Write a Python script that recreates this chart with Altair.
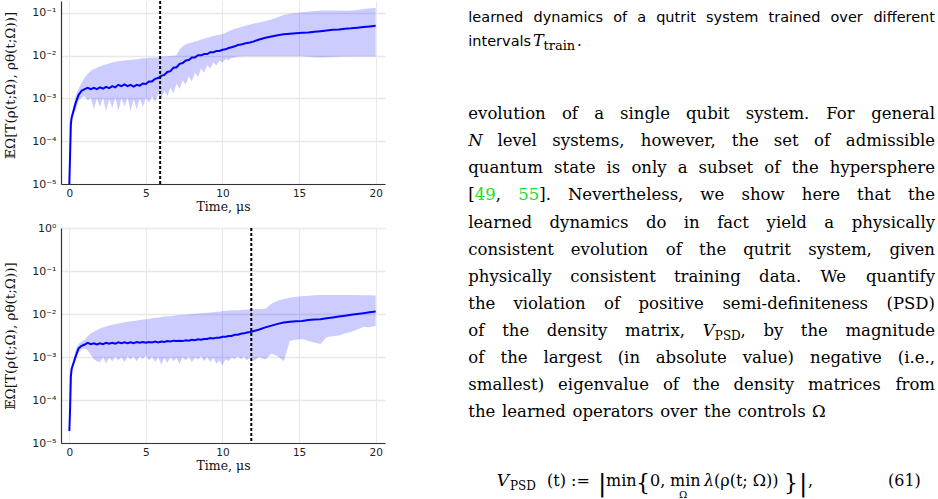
import altair as alt
import numpy as np
import pandas as pd

# ---------------- data (log10 of the plotted quantity) ----------------
T = [0, 0.05, 0.1, 0.15,
     0.2, 0.4, 0.6, 0.8, 1.0,
     1.2, 1.4, 1.6, 1.8, 2.0,
     2.2, 2.4, 2.6, 2.8, 3.0,
     3.2, 3.4, 3.6, 3.8, 4.0,
     4.2, 4.4, 4.6, 4.8, 5.0,
     5.2, 5.4, 5.6, 5.8, 6.0,
     6.2, 6.4, 6.6, 6.8, 7.0,
     7.2, 7.4, 7.6, 7.8, 8.0,
     8.2, 8.4, 8.6, 8.8, 9.0,
     9.2, 9.4, 9.6, 9.8, 10.0,
     10.2, 10.4, 10.6, 10.8, 11.0,
     11.2, 11.4, 11.6, 11.8, 12.0,
     12.4, 12.8, 13.2, 13.6, 14.0,
     14.4, 14.8, 15.2, 15.6, 16.0,
     16.4, 16.8, 17.2, 17.6, 18.0,
     18.4, 18.8, 19.2, 19.6, 20.0]

P1_MEAN = [-5.0, -4.3, -3.6, -3.45,
           -3.38, -3.12, -2.92, -2.82, -2.78,
           -2.75, -2.78, -2.75, -2.78, -2.74,
           -2.77, -2.73, -2.76, -2.71, -2.74,
           -2.68, -2.71, -2.67, -2.71, -2.68,
           -2.72, -2.68, -2.70, -2.65, -2.66,
           -2.60, -2.60, -2.54, -2.52, -2.47,
           -2.45, -2.38, -2.36, -2.28, -2.27,
           -2.19, -2.17, -2.11, -2.10, -2.04,
           -2.04, -1.99, -1.99, -1.96, -1.96,
           -1.92, -1.92, -1.89, -1.89, -1.86,
           -1.85, -1.82, -1.80, -1.78, -1.75,
           -1.74, -1.72, -1.70, -1.69, -1.67,
           -1.62, -1.58, -1.55, -1.52, -1.50,
           -1.485, -1.475, -1.465, -1.455, -1.44,
           -1.425, -1.41, -1.395, -1.385, -1.37,
           -1.36, -1.345, -1.33, -1.315, -1.30]

P1_HIGH = [-5.0, -4.3, -3.6, -3.4,
           -3.3, -2.95, -2.78, -2.63, -2.51,
           -2.42, -2.35, -2.31, -2.28, -2.25,
           -2.22, -2.20, -2.18, -2.16, -2.14,
           -2.13, -2.12, -2.11, -2.10, -2.10,
           -2.09, -2.08, -2.07, -2.06, -2.06,
           -2.05, -2.05, -2.04, -2.04, -2.03,
           -2.02, -2.01, -2.00, -2.00, -1.99,
           -1.85, -1.78, -1.74, -1.71, -1.69,
           -1.67, -1.65, -1.62, -1.60, -1.58,
           -1.56, -1.54, -1.52, -1.51, -1.49,
           -1.46, -1.43, -1.40, -1.37, -1.35,
           -1.33, -1.31, -1.29, -1.27, -1.25,
           -1.22, -1.19, -1.15, -1.10, -1.05,
           -1.02, -1.00, -0.985, -0.97, -0.955,
           -0.945, -0.94, -0.94, -0.945, -0.95,
           -0.945, -0.93, -0.91, -0.895, -0.88]

P1_LOW = [-5.0, -4.3, -3.7, -3.55,
          -3.45, -3.3, -3.05, -2.98, -2.95,
          -3.05, -2.98, -3.25, -3.0, -3.2,
          -2.98, -3.3, -3.02, -3.22, -2.99,
          -3.28, -3.0, -3.18, -2.98, -3.3,
          -3.02, -3.25, -3.0, -3.2, -2.98,
          -3.1, -2.95, -3.08, -2.9, -3.0,
          -2.82, -2.95, -2.75, -2.88, -2.65,
          -2.78, -2.58, -2.68, -2.48, -2.6,
          -2.4, -2.5, -2.3, -2.4, -2.22,
          -2.3, -2.16, -2.22, -2.12, -2.16,
          -2.08, -2.10, -2.05, -2.05, -2.02,
          -2.02, -2.01, -2.01, -2.01, -2.01,
          -2.01, -2.01, -2.01, -2.01, -2.01,
          -2.01, -2.01, -2.015, -2.025, -2.035,
          -2.04, -2.035, -2.03, -2.025, -2.02,
          -2.02, -2.02, -2.02, -2.02, -2.02]

P2_MEAN = [-4.72, -4.2, -3.45, -3.28,
           -3.22, -3.0, -2.8, -2.74, -2.71,
           -2.67, -2.70, -2.68, -2.71, -2.68,
           -2.70, -2.67, -2.69, -2.67, -2.69,
           -2.66, -2.68, -2.66, -2.68, -2.66,
           -2.68, -2.65, -2.67, -2.65, -2.67,
           -2.65, -2.66, -2.64, -2.66, -2.64,
           -2.65, -2.63, -2.64, -2.62, -2.63,
           -2.62, -2.63, -2.61, -2.62, -2.60,
           -2.61, -2.59, -2.60, -2.58, -2.58,
           -2.56, -2.57, -2.55, -2.55, -2.53,
           -2.53, -2.51, -2.51, -2.48, -2.48,
           -2.46, -2.45, -2.43, -2.42, -2.40,
           -2.36, -2.31, -2.27, -2.23, -2.20,
           -2.18, -2.17, -2.16, -2.14, -2.13,
           -2.12, -2.10, -2.08, -2.06, -2.04,
           -2.02, -2.00, -1.98, -1.96, -1.94]

P2_HIGH = [-4.72, -4.2, -3.4, -3.2,
           -3.15, -2.85, -2.70, -2.64, -2.60,
           -2.52, -2.45, -2.41, -2.37, -2.34,
           -2.31, -2.29, -2.27, -2.25, -2.24,
           -2.22, -2.21, -2.19, -2.18, -2.17,
           -2.16, -2.15, -2.14, -2.13, -2.12,
           -2.11, -2.10, -2.09, -2.085, -2.07,
           -2.06, -2.055, -2.05, -2.04, -2.03,
           -2.025, -2.02, -2.015, -2.005, -2.00,
           -1.995, -1.99, -1.98, -1.975, -1.97,
           -1.965, -1.96, -1.95, -1.945, -1.93,
           -1.925, -1.92, -1.915, -1.91, -1.91,
           -1.905, -1.90, -1.895, -1.89, -1.89,
           -1.885, -1.875, -1.76, -1.69, -1.65,
           -1.62, -1.60, -1.585, -1.575, -1.565,
           -1.56, -1.56, -1.56, -1.56, -1.56,
           -1.56, -1.56, -1.565, -1.565, -1.57]

P2_LOW = [-4.72, -4.25, -3.5, -3.35,
          -3.3, -3.08, -2.9, -2.82, -2.80,
          -2.85, -2.95, -3.05, -3.10, -3.12,
          -3.0, -3.15, -3.02, -3.1, -2.99,
          -3.08, -3.0, -3.12, -2.98, -3.06,
          -2.99, -3.1, -2.98, -3.04, -2.97,
          -3.08, -2.99, -3.12, -3.0, -3.18,
          -3.02, -3.14, -3.0, -3.1, -3.02,
          -3.16, -3.0, -3.08, -2.99, -3.12,
          -3.0, -3.06, -2.98, -3.1, -3.0,
          -3.12, -3.02, -3.15, -3.08, -3.2,
          -3.05, -3.1, -3.0, -3.06, -2.98,
          -3.05, -2.99, -3.08, -3.0, -3.1,
          -3.0, -3.06, -2.92, -2.98, -3.1,
          -2.62, -2.6, -2.58, -2.63, -2.66,
          -2.70, -2.54, -2.52, -2.50, -2.45,
          -2.42, -2.36, -2.30, -2.31, -2.28]

T_TRAIN = [5.93, 11.88]
X_TICKS = [0, 5, 10, 15, 20]
Y_TICKS_TOP = [1e-5, 1e-4, 1e-3, 1e-2, 1e-1]
Y_TICKS_BOT = [1e-5, 1e-4, 1e-3, 1e-2, 1e-1, 1e0]

Y_TITLE = "𝔼Ω[T(ρ(t;Ω), ρθ(t;Ω))]"
X_TITLE = "Time, μs"

CAPTION = "learned dynamics of a qutrit system trained over different"
BODY = [
    "evolution of a single qubit system.  For general",
    "N level systems, however, the set of admissible",
    "quantum state is only a subset of the hypersphere",
    "[49, 55].  Nevertheless, we show here that the",
    "learned dynamics do in fact yield a physically",
    "consistent evolution of the qutrit system, given",
    "physically consistent training data. We quantify",
    "the violation of positive semi-definiteness (PSD)",
    "of the density matrix, V_PSD, by the magnitude",
    "of the largest (in absolute value) negative (i.e.,",
    "smallest) eigenvalue of the density matrices from",
    "the learned operators over the controls Ω",
]

# ---------------- style ----------------
SANS = "DejaVu Sans"
SERIF = "DejaVu Serif"
BLUE = "#0000ff"
GREEN = "#22dd22"
XDOM = [-0.544, 20.61]
PW = 324

LABEL_EXPR = ("datum.value > 0.5 ? '10⁰' : datum.value > 0.05 ? '10⁻¹' : "
              "datum.value > 0.005 ? '10⁻²' : datum.value > 0.0005 ? '10⁻³' : "
              "datum.value > 0.00005 ? '10⁻⁴' : '10⁻⁵'")


def panel(mean, lo, hi, ttrain, ydomain, yticks, height, title_y):
    df = pd.DataFrame({
        "t": T,
        "mean": 10 ** np.array(mean),
        "lo": 10 ** np.array(lo),
        "hi": 10 ** np.array(hi),
    })
    xenc = alt.X("t:Q", scale=alt.Scale(domain=XDOM, nice=False, zero=False),
                 axis=alt.Axis(values=X_TICKS, title=X_TITLE, grid=True,
                               gridColor="#e8e8e8", gridWidth=1,
                               ticks=False, labelPadding=4, titlePadding=2,
                               labelFont=SANS, labelFontSize=10.5, labelColor="#222",
                               titleFont=SERIF, titleFontSize=12.5,
                               titleFontWeight="normal", titleColor="#111",
                               domainColor="#333", domainWidth=1.2))
    yscale = alt.Scale(type="log", domain=ydomain, nice=False)
    yenc = alt.Y("lo:Q", scale=yscale,
                 axis=alt.Axis(values=yticks, labelExpr=LABEL_EXPR, title=Y_TITLE,
                               grid=True, gridColor="#e8e8e8", gridWidth=1.5,
                               ticks=False, labelPadding=5,
                               labelFont=SANS, labelFontSize=11, labelColor="#222",
                               titleFont=SERIF, titleFontSize=13.5,
                               titleFontWeight="normal", titleColor="#111",
                               titleX=-50.5, titleY=title_y, titleBaseline="middle",
                               domainColor="#333", domainWidth=1.2))
    band = alt.Chart(df).mark_area(color=BLUE, opacity=0.2).encode(
        x=xenc, y=yenc, y2="hi:Q")
    line = alt.Chart(df).mark_line(color=BLUE, strokeWidth=2).encode(
        x="t:Q", y="mean:Q")
    rule = alt.Chart(pd.DataFrame({"t": [ttrain]})).mark_rule(
        color="black", strokeWidth=2, strokeDash=[3, 2]).encode(x="t:Q")
    return alt.layer(band, line, rule).properties(width=PW, height=height)


p1 = panel(P1_MEAN, P1_LOW, P1_HIGH, T_TRAIN[0], [1e-5, 10 ** -0.72], Y_TICKS_TOP, 183, 84)
p2 = panel(P2_MEAN, P2_LOW, P2_HIGH, T_TRAIN[1], [1e-5, 1.0], Y_TICKS_BOT, 215, 107.5)

# ---------------- text column (layout helpers) ----------------
SERIF_W = {"i": .32, "l": .32, "j": .34, "f": .40, "t": .40, "r": .48, "s": .51,
           "z": .52, "c": .56, "e": .59, "a": .60, "x": .58, "v": .58, "y": .58,
           "k": .62, "o": .60, "n": .64, "h": .64, "u": .64, "b": .64, "d": .64,
           "p": .64, "q": .64, "g": .64, "m": .97, "w": .86, " ": .318, ".": .318,
           ",": .318, ";": .337, ":": .337, "(": .39, ")": .39, "[": .39, "]": .39,
           "-": .338, "Ω": .78, "λ": .6, "ρ": .6, "I": .45, "W": 1.07, "M": .95,
           "N": .84, "P": .67, "S": .68, "D": .8, "V": .73, "T": .68}
SANS_W = {"a": .613, "b": .635, "c": .55, "d": .635, "e": .615, "f": .352, "g": .635,
          "h": .634, "i": .278, "j": .278, "k": .579, "l": .278, "m": .974, "n": .634,
          "o": .612, "p": .635, "q": .635, "r": .411, "s": .521, "t": .392, "u": .634,
          "v": .592, "w": .818, "x": .592, "y": .592, "z": .525, " ": .318}


def width(s, font, size):
    tab = SANS_W if font == SANS else SERIF_W
    tot = 0.0
    for c in s:
        if c in tab:
            tot += tab[c]
        elif c.isdigit():
            tot += .636
        elif c.isupper():
            tot += .72
        else:
            tot += .6
    return tot * size


one = pd.DataFrame({"k": [0]})


def txt(s, x, y, size=16.5, font=SERIF, style="normal", color="black", align="left"):
    return alt.Chart(one).mark_text(
        align=align, baseline="alphabetic", font=font, fontSize=size,
        fontStyle=style, color=color).encode(
        x=alt.value(x), y=alt.value(y), text=alt.value(s))


L, R = 68.3, 535
B0, DY = 118.3, 27.06
BS = 16.5        # body font size
texts = []


def P(s, font=SERIF, size=BS, style="normal", color="black", dy=0):
    return dict(s=s, font=font, size=size, style=style, color=color, dy=dy)


def tokens_plain(line, font=SERIF, size=BS):
    return [[P(w, font, size)] for w in line.split()]


def lay(tokens, y, justify=True, font_space=SERIF, size=BS):
    ws = [sum(width(p["s"], p["font"], p["size"]) for p in tok) for tok in tokens]
    n = len(tokens)
    if justify:
        gap = (R - L - sum(ws)) / (n - 1)
    else:
        gap = width(" ", font_space, size) * 1.3
    x = L
    for k, tok in enumerate(tokens):
        if len(tok) == 1:
            p = tok[0]
            if k == 0:
                texts.append(txt(p["s"], L, y + p["dy"], p["size"], p["font"], p["style"], p["color"], "left"))
            elif k == n - 1 and justify:
                texts.append(txt(p["s"], R, y + p["dy"], p["size"], p["font"], p["style"], p["color"], "right"))
            else:
                texts.append(txt(p["s"], x + ws[k] / 2, y + p["dy"], p["size"], p["font"], p["style"], p["color"], "center"))
        else:
            xx = x
            for p in tok:
                texts.append(txt(p["s"], xx, y + p["dy"], p["size"], p["font"], p["style"], p["color"], "left"))
                xx += width(p["s"], p["font"], p["size"])
        x += ws[k] + gap


# caption
lay(tokens_plain(CAPTION, SANS, 14.5), 20.5)
texts.append(txt("intervals", L, 45, 14.5, SANS))
texts.append(txt("T", 133, 45, 16, SERIF, "italic"))
texts.append(txt("train", 143.5, 48.5, 13, SERIF))
texts.append(txt(".", 177, 45, 15, SERIF))

for i, line in enumerate(BODY):
    y = B0 + DY * i
    if i == 1:
        toks = [[P("N", style="italic")]] + tokens_plain(line[2:])
        lay(toks, y)
    elif i == 3:
        toks = [[P("["), P("49", color=GREEN), P(",")],
                [P("55", color=GREEN), P("].")]] + tokens_plain(line[9:])
        lay(toks, y)
    elif i == 8:
        toks = tokens_plain("of the density matrix,") + \
            [[P("V", style="italic"), P("PSD", size=12, dy=4), P(",")]] + \
            tokens_plain("by the magnitude")
        lay(toks, y)
    elif i == 11:
        lay(tokens_plain(line), y, justify=False)
    else:
        lay(tokens_plain(line), y)

# equation (61)
ye = 485
texts.append(txt("V", 96.7, ye, 17, style="italic"))
texts.append(txt("PSD", 110, ye + 4, 12))
texts.append(txt("(t) :=", 147, ye, 16))
texts.append(txt("|", 198, ye + 5, 25))
texts.append(txt("min", 206, ye, 16))
texts.append(txt("{", 236, ye + 4, 22))
texts.append(txt("0,", 250, ye, 16))
texts.append(txt("min", 270, ye, 16))
texts.append(txt("Ω", 279, ye + 12, 10))
texts.append(txt("λ", 304, ye, 16, style="italic"))
texts.append(txt("(ρ(t; Ω))", 314, ye, 16))
texts.append(txt("}", 384, ye + 4, 22))
texts.append(txt("|", 399, ye + 5, 25))
texts.append(txt(",", 408, ye, 16))
texts.append(txt("(61)", 488, ye, 16))

text_panel = alt.layer(*texts).properties(width=538, height=499)

left = alt.vconcat(p1, p2, spacing=44, bounds="flush")
chart = alt.hconcat(left, text_panel, spacing=15).configure_view(
    stroke=None).properties(
    padding={"left": 3, "top": 0, "right": 0, "bottom": 0},
    background="white")

chart.save("out.html", embed_options={"renderer": "svg", "actions": False})
